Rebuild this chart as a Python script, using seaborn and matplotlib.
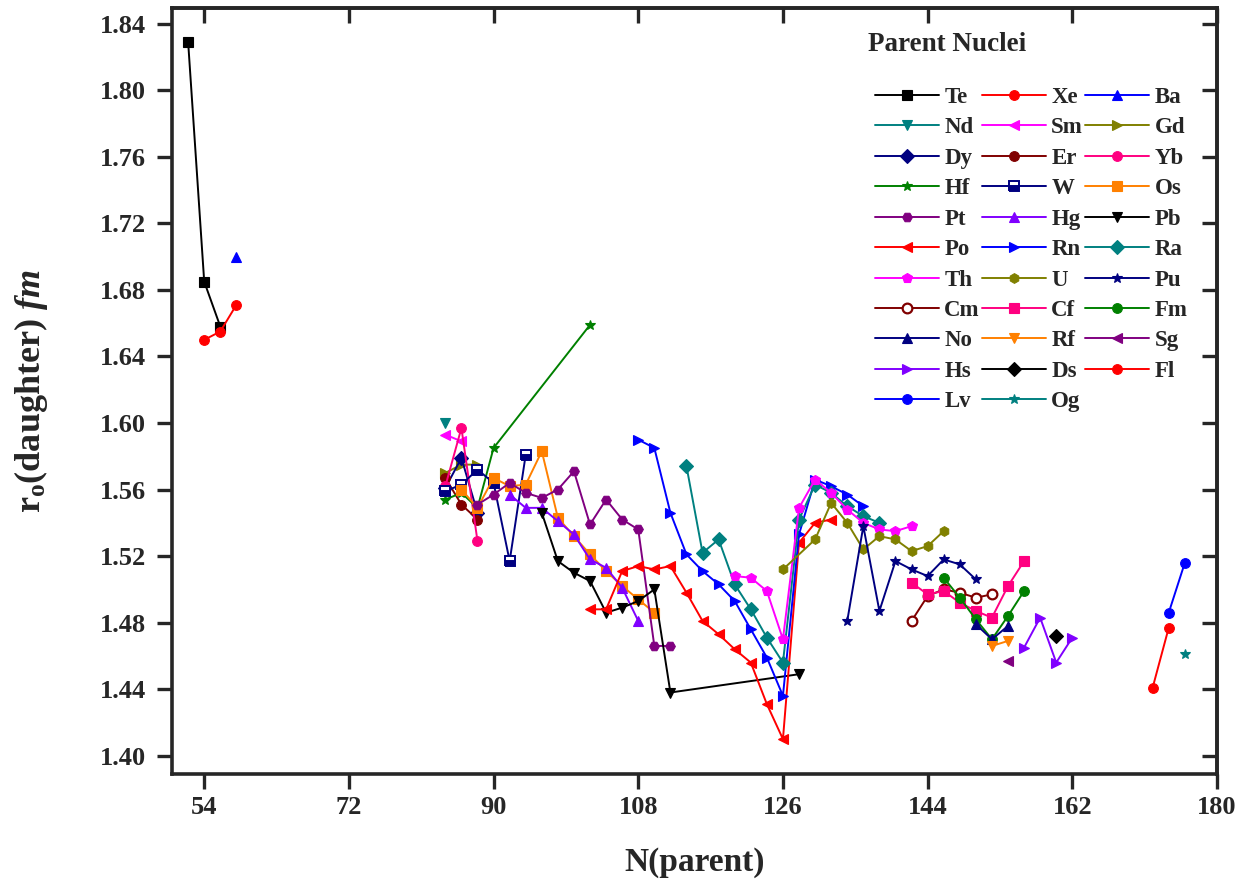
import matplotlib
matplotlib.use("Agg")
import matplotlib.pyplot as plt
import seaborn as sns
import pandas as pd

sns.set_style("ticks")
plt.rcParams.update({
    "font.family": ["Liberation Serif", "DejaVu Serif"],
    "font.weight": "bold",
    "axes.labelweight": "bold",
    "mathtext.fontset": "custom",
    "mathtext.rm": "Liberation Serif:bold",
    "mathtext.bf": "Liberation Serif:bold",
    "mathtext.it": "Liberation Serif:italic:bold",
})

# ---- neutron number of the parent and r0 of the daughter, per parent element ----
N_Te = [52, 54, 56]
R_Te = [1.829, 1.685, 1.658]
N_Xe = [54, 56, 58]
R_Xe = [1.650, 1.655, 1.671]
N_Ba = [58]
R_Ba = [1.700]
N_Nd = [84]
R_Nd = [1.600]
N_Sm = [84, 86]
R_Sm = [1.593, 1.589]
N_Gd = [84, 86, 88]
R_Gd = [1.570, 1.575, 1.575]
N_Dy = [84, 86, 88]
R_Dy = [1.561, 1.579, 1.546]
N_Er = [84, 86, 88]
R_Er = [1.567, 1.551, 1.542]
N_Yb = [84, 86, 88]
R_Yb = [1.562, 1.597, 1.529]
N_Hf = [84, 86, 88, 90, 102]
R_Hf = [1.554, 1.558, 1.549, 1.585, 1.659]
N_W = [84, 86, 88, 90, 92, 94]
R_W = [1.559, 1.563, 1.572, 1.564, 1.517, 1.581]
N_Os = [86, 88, 90, 92, 94, 96, 98, 100, 102, 104, 106, 108, 110]
R_Os = [1.560, 1.549, 1.567, 1.562, 1.563, 1.583, 1.543, 1.532, 1.521, 1.511, 1.502, 1.494, 1.486]
N_Pt = [88, 90, 92, 94, 96, 98, 100, 102, 104, 106, 108, 110, 112]
R_Pt = [1.551, 1.557, 1.564, 1.558, 1.555, 1.560, 1.571, 1.539, 1.554, 1.542, 1.536, 1.466, 1.466]
N_Hg = [92, 94, 96, 98, 100, 102, 104, 106, 108]
R_Hg = [1.557, 1.549, 1.549, 1.541, 1.533, 1.518, 1.513, 1.501, 1.481]
N_Pb = [96, 98, 100, 102, 104, 106, 108, 110, 112, 128]
R_Pb = [1.546, 1.517, 1.510, 1.505, 1.486, 1.489, 1.493, 1.500, 1.438, 1.449]
N_Po = [102, 104, 106, 108, 110, 112, 114, 116, 118, 120, 122, 124, 126, 128, 130, 132]
R_Po = [1.488, 1.488, 1.511, 1.514, 1.512, 1.514, 1.498, 1.481, 1.473, 1.464, 1.456, 1.431, 1.410,
        1.528, 1.540, 1.542]
N_Rn = [108, 110, 112, 114, 116, 118, 120, 122, 124, 126, 128, 130, 132, 134, 136]
R_Rn = [1.590, 1.585, 1.546, 1.521, 1.511, 1.503, 1.493, 1.476, 1.459, 1.436, 1.533, 1.566, 1.562,
        1.557, 1.550]
N_Ra = [114, 116, 118, 120, 122, 124, 126, 128, 130, 132, 134, 136, 138]
R_Ra = [1.574, 1.522, 1.530, 1.503, 1.488, 1.471, 1.456, 1.542, 1.563, 1.558, 1.550, 1.544, 1.540]
N_Th = [120, 122, 124, 126, 128, 130, 132, 134, 136, 138, 140, 142]
R_Th = [1.508, 1.507, 1.499, 1.470, 1.549, 1.566, 1.558, 1.548, 1.540, 1.536, 1.535, 1.538]
N_U = [126, 130, 132, 134, 136, 138, 140, 142, 144, 146]
R_U = [1.512, 1.530, 1.552, 1.540, 1.524, 1.532, 1.530, 1.523, 1.526, 1.535]
N_Pu = [134, 136, 138, 140, 142, 144, 146, 148, 150]
R_Pu = [1.481, 1.538, 1.487, 1.517, 1.512, 1.508, 1.518, 1.515, 1.506]
N_Cm = [142, 144, 146, 148, 150, 152]
R_Cm = [1.481, 1.496, 1.500, 1.498, 1.495, 1.497]
N_Cf = [142, 144, 146, 148, 150, 152, 154, 156]
R_Cf = [1.504, 1.497, 1.499, 1.492, 1.487, 1.483, 1.502, 1.517]
N_Fm = [146, 148, 150, 152, 154, 156]
R_Fm = [1.507, 1.495, 1.482, 1.470, 1.484, 1.499]
N_No = [150, 152, 154]
R_No = [1.479, 1.470, 1.478]
N_Rf = [152, 154]
R_Rf = [1.466, 1.469]
N_Sg = [154]
R_Sg = [1.457]
N_Hs = [156, 158, 160, 162]
R_Hs = [1.465, 1.483, 1.456, 1.471]
N_Ds = [160]
R_Ds = [1.472]
N_Fl = [172, 174]
R_Fl = [1.441, 1.477]
N_Lv = [174, 176]
R_Lv = [1.486, 1.516]
N_Og = [176]
R_Og = [1.461]

elements = ["Te", "Xe", "Ba", "Nd", "Sm", "Gd", "Dy", "Er", "Yb", "Hf", "W", "Os",
            "Pt", "Hg", "Pb", "Po", "Rn", "Ra", "Th", "U", "Pu", "Cm", "Cf", "Fm",
            "No", "Rf", "Sg", "Hs", "Ds", "Fl", "Lv", "Og"]
series_n = [N_Te, N_Xe, N_Ba, N_Nd, N_Sm, N_Gd, N_Dy, N_Er, N_Yb, N_Hf, N_W, N_Os,
            N_Pt, N_Hg, N_Pb, N_Po, N_Rn, N_Ra, N_Th, N_U, N_Pu, N_Cm, N_Cf, N_Fm,
            N_No, N_Rf, N_Sg, N_Hs, N_Ds, N_Fl, N_Lv, N_Og]
series_r = [R_Te, R_Xe, R_Ba, R_Nd, R_Sm, R_Gd, R_Dy, R_Er, R_Yb, R_Hf, R_W, R_Os,
            R_Pt, R_Hg, R_Pb, R_Po, R_Rn, R_Ra, R_Th, R_U, R_Pu, R_Cm, R_Cf, R_Fm,
            R_No, R_Rf, R_Sg, R_Hs, R_Ds, R_Fl, R_Lv, R_Og]

colors = ["#000000", "#ff0000", "#0000ff", "#008080", "#ff00ff", "#808000",
          "#000080", "#800000", "#ff0080", "#008000", "#000080", "#ff8000",
          "#800080", "#8000ff", "#000000", "#ff0000", "#0000ff", "#008080",
          "#ff00ff", "#808000", "#000080", "#800000", "#ff0080", "#008000",
          "#000080", "#ff8000", "#800080", "#8000ff", "#000000", "#ff0000",
          "#0000ff", "#008080"]
markers = ["s", "o", "^", "v", "<", ">", "D", "o", "o", "*", "s", "s",
           "H", "^", "v", "<", ">", "D", "p", "h", "*", "o", "s", "o",
           "^", "v", "<", ">", "D", "o", "o", "*"]

rows = []
for el, ns, rs in zip(elements, series_n, series_r):
    for n, r in zip(ns, rs):
        rows.append((el, n, r))
df = pd.DataFrame(rows, columns=["element", "N", "r0"])

fig = plt.figure(figsize=(12.45, 8.85), dpi=100)
ax = fig.add_axes([0.1382, 0.1254, 0.8393, 0.8656])

sns.lineplot(data=df, x="N", y="r0", hue="element", style="element",
             hue_order=elements, style_order=elements,
             palette=dict(zip(elements, colors)),
             markers=dict(zip(elements, markers)), dashes=False,
             estimator=None, sort=False, legend=False,
             linewidth=1.4, markersize=7, ax=ax)

# identify each drawn line by its data and restyle its markers
key_to_el = {(tuple(float(v) for v in ns), tuple(round(float(v), 4) for v in rs)): el
             for el, ns, rs in zip(elements, series_n, series_r)}
line_of = {}
for ln in ax.lines:
    key = (tuple(float(v) for v in ln.get_xdata()),
           tuple(round(float(v), 4) for v in ln.get_ydata()))
    el = key_to_el.get(key)
    if el is None:
        continue
    line_of[el] = ln
    c = colors[elements.index(el)]
    ln.set_markeredgecolor(c)
    ln.set_markeredgewidth(0.8)
    if el == "Cm":
        ln.set_markerfacecolor("white")
        ln.set_markeredgewidth(1.6)
    if el == "W":
        ln.set_fillstyle("bottom")
        ln.set_markerfacecoloralt("white")
        ln.set_markeredgewidth(1.4)

ax.set_xlim(50, 180)
ax.set_ylim(1.389, 1.8495)
xt = [54, 72, 90, 108, 126, 144, 162, 180]
yt = [1.40, 1.44, 1.48, 1.52, 1.56, 1.60, 1.64, 1.68, 1.72, 1.76, 1.80, 1.84]
ax.set_xticks(xt)
ax.set_yticks(yt)
ax.set_yticklabels([f"{v:.2f}" for v in yt])
ax.tick_params(axis="both", direction="out", length=11, width=2.4, labelsize=19)
ax.tick_params(axis="y", pad=8)
ax.tick_params(axis="x", pad=5)

for sp in ax.spines.values():
    sp.set_linewidth(2.6)
    sp.set_visible(True)

# inward ticks on the top and right frame
sec_x = ax.secondary_xaxis("top")
sec_x.set_xticks(xt)
sec_x.tick_params(direction="in", length=11, width=2.4, labeltop=False)
sec_x.spines["top"].set_linewidth(2.6)
sec_y = ax.secondary_yaxis("right")
sec_y.set_yticks(yt)
sec_y.tick_params(direction="in", length=11, width=2.4, labelright=False)
sec_y.spines["right"].set_linewidth(2.6)

ax.set_xlabel("N(parent)", fontsize=24)
ax.set_ylabel(r"r$_\mathrm{o}$(daughter) $\mathit{fm}$", fontsize=26)
ax.xaxis.set_label_coords(0.5, -0.095)
ax.yaxis.set_label_coords(-0.117, 0.5)

# legend laid out row by row: Te Xe Ba / Nd Sm Gd / ...
order = elements[0::3] + elements[1::3] + elements[2::3]
handles = [line_of[el] for el in order]
leg = ax.legend(handles, order, ncol=3, loc="upper left",
                bbox_to_anchor=(0.6727, 0.897), frameon=False, fontsize=16.5,
                handlelength=2.8, handletextpad=0.22, columnspacing=0.1,
                labelspacing=0.41, borderaxespad=0, borderpad=0)
ax.text(0.666, 0.9517, "Parent Nuclei", transform=ax.transAxes, fontsize=19.5,
        fontweight="bold", ha="left", va="center")

fig.savefig("out.png", dpi=100)
